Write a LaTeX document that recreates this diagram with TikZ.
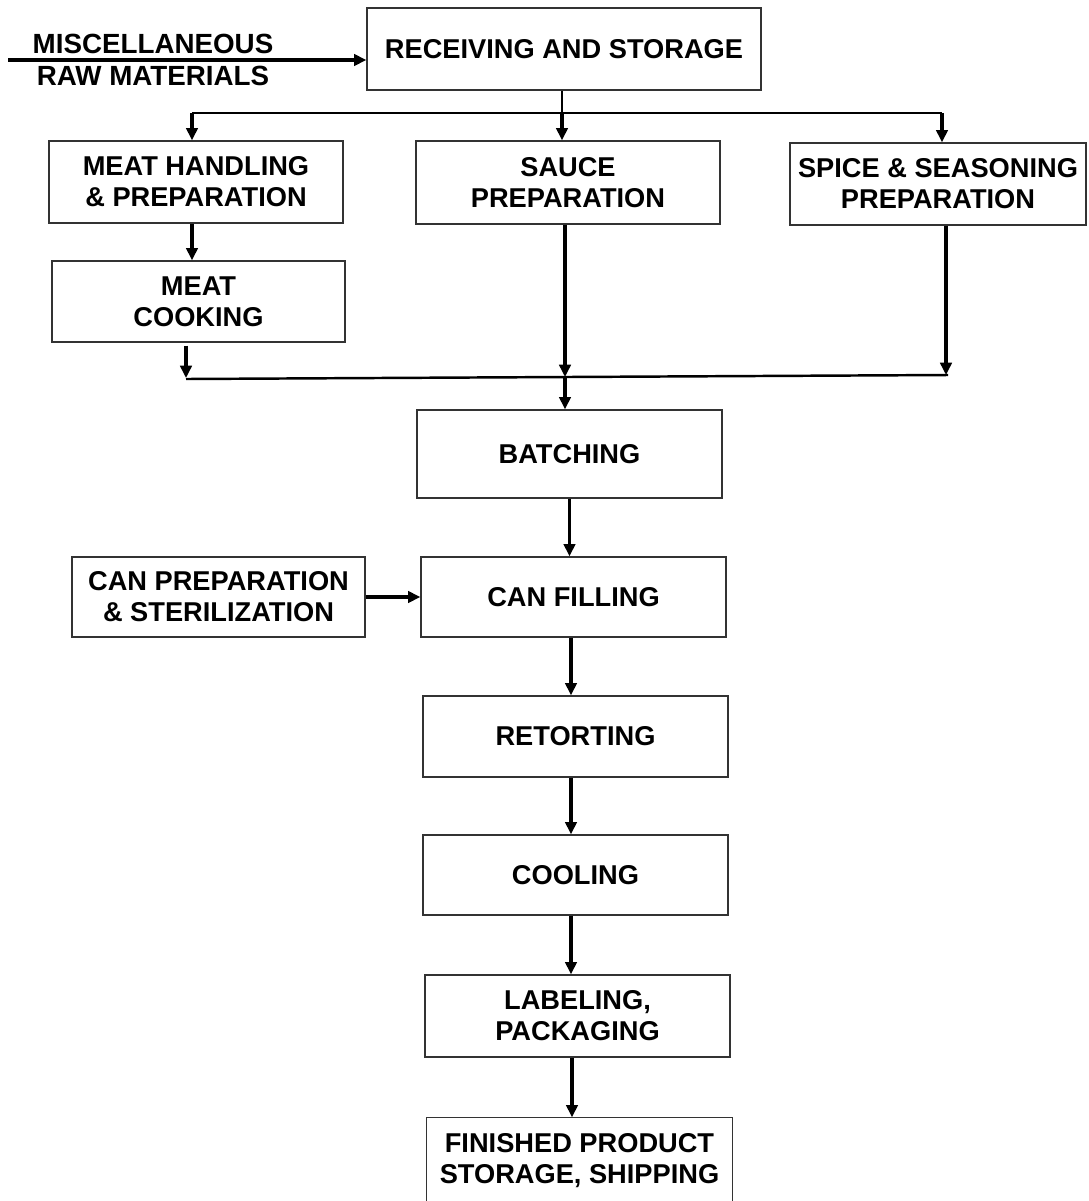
\documentclass[tikz,border=0pt]{standalone}
\usepackage{fontspec}
\setmainfont{Liberation Sans}
\usetikzlibrary{arrows.meta}
\begin{document}
\begin{tikzpicture}[x=0.02cm,y=-0.02cm,
  box/.style={draw=black!80,line width=0.8pt,align=center,inner sep=0pt,
    font=\fontsize{15.5}{17.6}\selectfont\bfseries},
  lbl/.style={align=center,inner sep=0pt,font=\fontsize{15.8}{18.2}\selectfont\bfseries},
  arr/.style={line width=1.8pt,-{Triangle[length=7pt,width=6.5pt]}},
  ln/.style={line width=1.4pt}]
\useasboundingbox (0,0) rectangle (1089,1201);
% boxes
\node[box,minimum width=7.88cm,minimum height=1.64cm] (rec) at (564,49) {RECEIVING AND STORAGE};
\node[box,minimum width=5.88cm,minimum height=1.64cm] (meat) at (196,182) {MEAT HANDLING\\\& PREPARATION};
\node[box,minimum width=6.08cm,minimum height=1.66cm] (sauce) at (568,182.5) {SAUCE\\PREPARATION};
\node[box,minimum width=5.92cm,minimum height=1.64cm] (spice) at (938,184) {SPICE \& SEASONING\\PREPARATION};
\node[box,minimum width=5.86cm,minimum height=1.62cm] (cook) at (198.5,301.5) {MEAT\\COOKING};
\node[box,minimum width=6.10cm,minimum height=1.76cm] (batch) at (569.5,454) {BATCHING};
\node[box,minimum width=5.86cm,minimum height=1.60cm] (canprep) at (218.5,597) {CAN PREPARATION\\\& STERILIZATION};
\node[box,minimum width=6.10cm,minimum height=1.60cm] (fill) at (573.5,597) {CAN FILLING};
\node[box,minimum width=6.10cm,minimum height=1.62cm] (ret) at (575.5,736.5) {RETORTING};
\node[box,minimum width=6.10cm,minimum height=1.60cm] (cool) at (575.5,875) {COOLING};
\node[box,minimum width=6.10cm,minimum height=1.64cm] (lab) at (577.5,1016) {LABELING,\\PACKAGING};
\node[box,draw=none,minimum width=6.10cm,minimum height=2.00cm] (fin) at (579.5,1168) {};
\node[box,draw=none,anchor=north] (fintext) at (579.5,1133) {FINISHED PRODUCT\\STORAGE, SHIPPING};
\draw[black!80,line width=0.8pt] (fin.south west) -- (fin.north west) -- (fin.north east) -- (fin.south east);
\node[lbl] (misc) at (153,60) {MISCELLANEOUS\\RAW MATERIALS};
% input arrow
\coordinate (src) at (8,60);
\draw[arr] (src) -- (rec.west |- src);
% split
\coordinate (t) at (562,113);
\coordinate (tl) at (192,113);
\coordinate (tr) at (942,113);
\draw[ln] (rec.south -| t) -- (t);
\draw[ln] (tl) -- (tr);
\draw[arr] (tl) -- (tl |- meat.north);
\draw[arr] (t) -- (t |- sauce.north);
\draw[arr] (tr) -- (tr |- spice.north);
\draw[arr] (meat.south -| tl) -- (tl |- cook.north);
% merge
\coordinate (m1) at (186,378);
\coordinate (m2) at (565,377);
\coordinate (m3) at (946,375);
\coordinate (ml) at (186,379);
\coordinate (mr) at (948,375);
\draw[arr] (cook.south -| m1) ++(0,3) -- (m1);
\draw[arr] (sauce.south -| m2) -- (m2);
\draw[arr] (spice.south -| m3) -- (m3);
\draw[ln] (ml) -- (mr);
\draw[arr] (565,378) -- (batch.north -| m2);
% chain
\draw[arr] (batch.south) -- (batch.south |- fill.north);
\draw[arr] (canprep.east) -- (fill.west);
\draw[arr] ([xshift=-0.05cm]fill.south) -- ([xshift=-0.05cm]fill.south |- ret.north);
\draw[arr] ([xshift=-0.09cm]ret.south) -- ([xshift=-0.09cm]ret.south |- cool.north);
\draw[arr] ([xshift=-0.09cm]cool.south) -- ([xshift=-0.09cm]cool.south |- lab.north);
\draw[arr] ([xshift=-0.11cm]lab.south) -- ([xshift=-0.11cm]lab.south |- fin.north);
\end{tikzpicture}
\end{document}
